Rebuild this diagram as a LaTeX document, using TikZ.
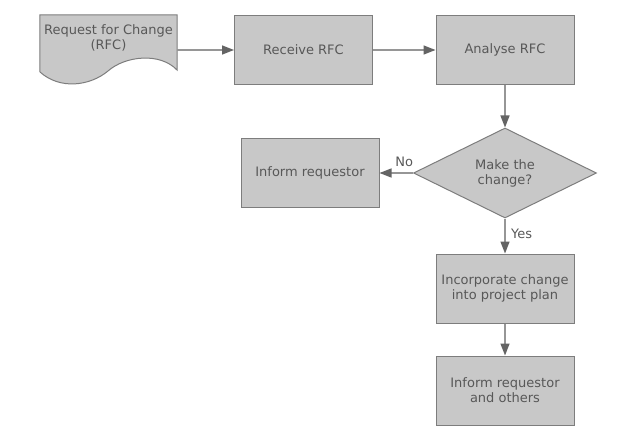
\documentclass[tikz,border=0pt]{standalone}
\usepackage{fontspec}
\setmainfont{DejaVu Sans}
\usetikzlibrary{shapes.geometric,arrows.meta}
\definecolor{boxfill}{RGB}{200,200,200}
\definecolor{boxline}{RGB}{125,125,125}
\definecolor{txtgray}{RGB}{88,88,88}
\definecolor{linegray}{RGB}{150,150,150}
\definecolor{tipgray}{RGB}{100,100,100}
\tikzset{
  stepbox/.style={draw=boxline, fill=boxfill, line width=1pt, text=txtgray,
    minimum width=138pt, minimum height=69pt, align=center, inner sep=2pt,
    font=\fontsize{13}{15}\selectfont},
  choice/.style={diamond, draw=boxline, fill=boxfill, line width=1pt, text=txtgray,
    minimum width=183pt, minimum height=90pt, aspect=2, inner sep=0pt, align=center,
    font=\fontsize{13}{15}\selectfont},
  flow/.style={draw=linegray, line width=1.4pt,
    -{Triangle[length=12pt,width=9pt,color=tipgray,fill=tipgray]}},
  lbl/.style={text=txtgray, font=\fontsize{13}{15}\selectfont}
}
\begin{document}
\begin{tikzpicture}[x=1pt,y=-1pt]
\useasboundingbox (0,0) rectangle (617,446);

% document shape
\node (req) [minimum width=137pt, minimum height=70pt, inner sep=0pt] at (108.5,50) {};
\draw[boxline, fill=boxfill, line width=1pt] (req.north west) -- (req.north east) -- (177,70)
  .. controls (160,52) and (125,56) .. (108,71)
  .. controls (90,86) and (60,90) .. (40,72) -- cycle;
\node (reqtxt) [lbl, align=center, anchor=north] at (108.5,21) {Request for Change\\(RFC)};

\node (receive) [stepbox] at (303.5,50) {Receive RFC};
\node (analyse) [stepbox] at (505,50) {Analyse RFC};
\node (decide) [choice] at (505,173) {Make the\\change?};
\node (inform) [stepbox] at (310,173) {Inform requestor};
\node (plan) [stepbox] at (505,288.5) {Incorporate change\\into project plan};
\node (others) [stepbox] at (505,390.5) {Inform requestor\\and others};

\draw[flow] (req.east) -- (receive.west);
\draw[flow] (receive) -- (analyse);
\draw[flow] (analyse) -- (decide);
\draw[flow] (decide.west) -- node[lbl, above=2pt, pos=0.26] {No} (inform.east);
\draw[flow] (decide.south) -- node[lbl, right=2pt, pos=0.45] {Yes} (plan.north);
\draw[flow] (plan) -- (others);

\end{tikzpicture}
\end{document}
